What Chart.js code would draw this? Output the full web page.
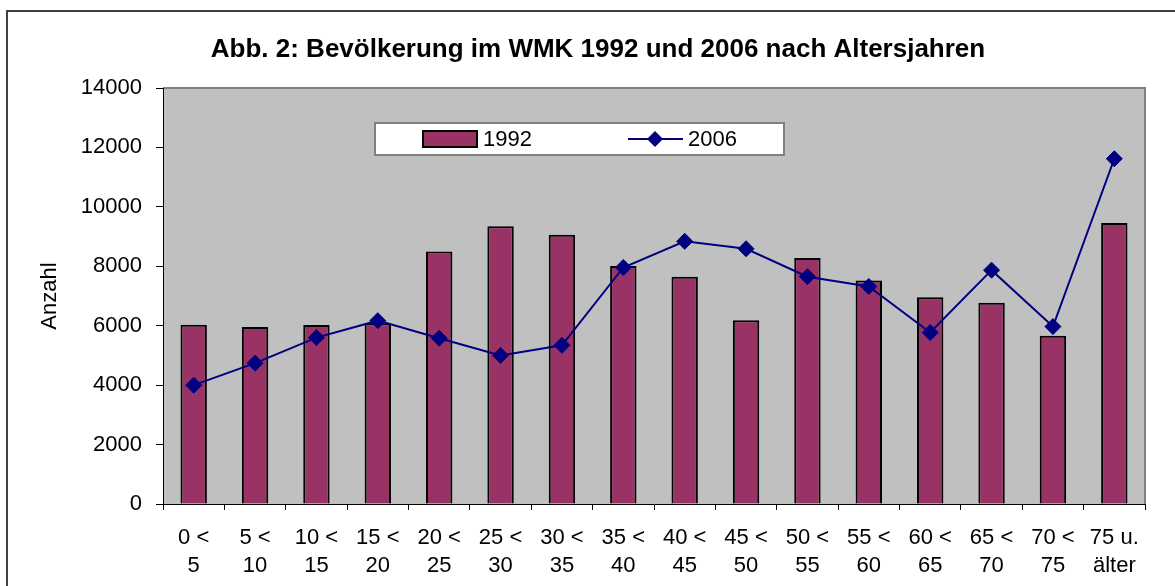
<!DOCTYPE html>
<html lang="de">
<head>
<meta charset="utf-8">
<title>Bevölkerung im WMK</title>
<script src="https://cdn.jsdelivr.net/npm/chart.js@4.4.1/dist/chart.umd.min.js"></script>
<style>
  html, body { margin: 0; padding: 0; background: #fff; }
  #wrap { width: 1175px; height: 586px; position: relative; }
</style>
</head>
<body>
<div id="wrap"><canvas id="chart-bev" width="1175" height="586"></canvas></div>
<script>
// Daten
const altersgruppen = [
  ["0 <", "5"], ["5 <", "10"], ["10 <", "15"], ["15 <", "20"],
  ["20 <", "25"], ["25 <", "30"], ["30 <", "35"], ["35 <", "40"],
  ["40 <", "45"], ["45 <", "50"], ["50 <", "55"], ["55 <", "60"],
  ["60 <", "65"], ["65 <", "70"], ["70 <", "75"], ["75 u.", "älter"]
];
const werte1992 = [6030, 5960, 6020, 6080, 8500, 9350, 9060, 8010, 7650, 6180, 8280, 7520, 6960, 6770, 5660, 9460];
const werte2006 = [4000, 4740, 5600, 6170, 5580, 5000, 5340, 7960, 8840, 8590, 7650, 7320, 5770, 7870, 5970, 11620];
const yMin = 0;
const yMax = 14000;
const yStep = 2000;

const schrift = "'Liberation Sans', Arial, Helvetica, sans-serif";
const farbeBalken = "#993366";
const farbeLinie = "#000080";

// Rahmen, grauer Hintergrund der Zeichenfläche und Legende
const hintergrund = {
  id: "hintergrund",
  beforeDraw(chart) {
    const { ctx, chartArea: a } = chart;
    ctx.save();
    ctx.fillStyle = "#fff";
    ctx.fillRect(0, 0, chart.width, chart.height);
    // Diagrammrahmen
    ctx.strokeStyle = "#404040";
    ctx.lineWidth = 2;
    ctx.beginPath();
    ctx.moveTo(7, chart.height + 5);
    ctx.lineTo(7, 11);
    ctx.lineTo(chart.width + 5, 11);
    ctx.stroke();
    // Zeichenfläche
    ctx.fillStyle = "#C0C0C0";
    ctx.fillRect(a.left, a.top, a.right - a.left, a.bottom - a.top);
    ctx.strokeStyle = "#808080";
    ctx.lineWidth = 2;
    ctx.beginPath();
    ctx.moveTo(a.left, a.top);
    ctx.lineTo(a.right, a.top);
    ctx.lineTo(a.right, a.bottom);
    ctx.stroke();
    ctx.restore();
  },
  afterDraw(chart) {
    const { ctx } = chart;
    const ds = chart.data.datasets;
    ctx.save();
    ctx.fillStyle = "#fff";
    ctx.fillRect(375, 123, 409, 32);
    ctx.strokeStyle = "#808080";
    ctx.lineWidth = 2;
    ctx.strokeRect(375, 123, 409, 32);

    // 1992 (Balken)
    ctx.fillStyle = ds[0].backgroundColor;
    ctx.fillRect(423, 131, 54, 16);
    ctx.strokeStyle = "#000";
    ctx.lineWidth = 2;
    ctx.strokeRect(423, 131, 54, 16);

    // 2006 (Linie)
    ctx.strokeStyle = ds[1].borderColor;
    ctx.lineWidth = 2;
    ctx.beginPath();
    ctx.moveTo(628, 139);
    ctx.lineTo(683, 139);
    ctx.stroke();
    ctx.fillStyle = ds[1].borderColor;
    ctx.beginPath();
    ctx.moveTo(655, 131);
    ctx.lineTo(663, 139);
    ctx.lineTo(655, 147);
    ctx.lineTo(647, 139);
    ctx.closePath();
    ctx.fill();

    ctx.fillStyle = "#000";
    ctx.font = "22px " + schrift;
    ctx.textBaseline = "middle";
    ctx.textAlign = "left";
    ctx.fillText(ds[0].label, 483, 140);
    ctx.fillText(ds[1].label, 688, 140);
    ctx.restore();
  }
};

const ctx = document.getElementById("chart-bev").getContext("2d");
new Chart(ctx, {
  type: "bar",
  data: {
    labels: altersgruppen,
    datasets: [
      {
        type: "bar",
        label: "1992",
        data: werte1992,
        backgroundColor: farbeBalken,
        borderColor: "#000",
        borderWidth: 2,
        barPercentage: 0.43,
        categoryPercentage: 1,
        order: 2
      },
      {
        type: "line",
        label: "2006",
        data: werte2006,
        borderColor: farbeLinie,
        backgroundColor: farbeLinie,
        borderWidth: 2,
        tension: 0,
        pointStyle: "rectRot",
        pointRadius: 8,
        pointBorderWidth: 1,
        pointBackgroundColor: farbeLinie,
        pointBorderColor: farbeLinie,
        order: 1
      }
    ]
  },
  options: {
    responsive: false,
    animation: false,
    devicePixelRatio: 1,
    layout: { padding: { left: 51, right: 30, top: 0, bottom: 0 } },
    plugins: {
      legend: { display: false },
      tooltip: { enabled: false },
      title: {
        display: true,
        text: "Abb. 2: Bevölkerung im WMK 1992 und 2006 nach Altersjahren",
        color: "#000",
        font: { family: schrift, size: 26, weight: "bold", lineHeight: 1.2 },
        padding: { top: 34.4, bottom: 22.4 }
      }
    },
    scales: {
      x: {
        offset: true,
        grid: {
          display: true,
          offset: true,
          drawOnChartArea: false,
          tickLength: 6,
          color: "#000"
        },
        border: { display: true, color: "#000", width: 1 },
        ticks: {
          color: "#000",
          padding: 14,
          maxRotation: 0,
          autoSkip: false,
          font: { family: schrift, size: 22, lineHeight: 28 / 22 }
        },
        afterFit(scale) { scale.height = 82; }
      },
      y: {
        min: yMin,
        max: yMax,
        grid: {
          display: true,
          drawOnChartArea: false,
          tickLength: 7,
          color: "#000"
        },
        border: { display: true, color: "#000", width: 1 },
        ticks: {
          stepSize: yStep,
          color: "#000",
          padding: 14,
          font: { family: schrift, size: 22 },
          callback: (v) => String(v)
        },
        title: {
          display: true,
          text: "Anzahl",
          color: "#000",
          font: { family: schrift, size: 22, lineHeight: 1.2 },
          padding: { top: -14, bottom: 0 }
        },
        afterFit(scale) { scale.width = 112; }
      }
    }
  },
  plugins: [hintergrund]
});
</script>
</body>
</html>
